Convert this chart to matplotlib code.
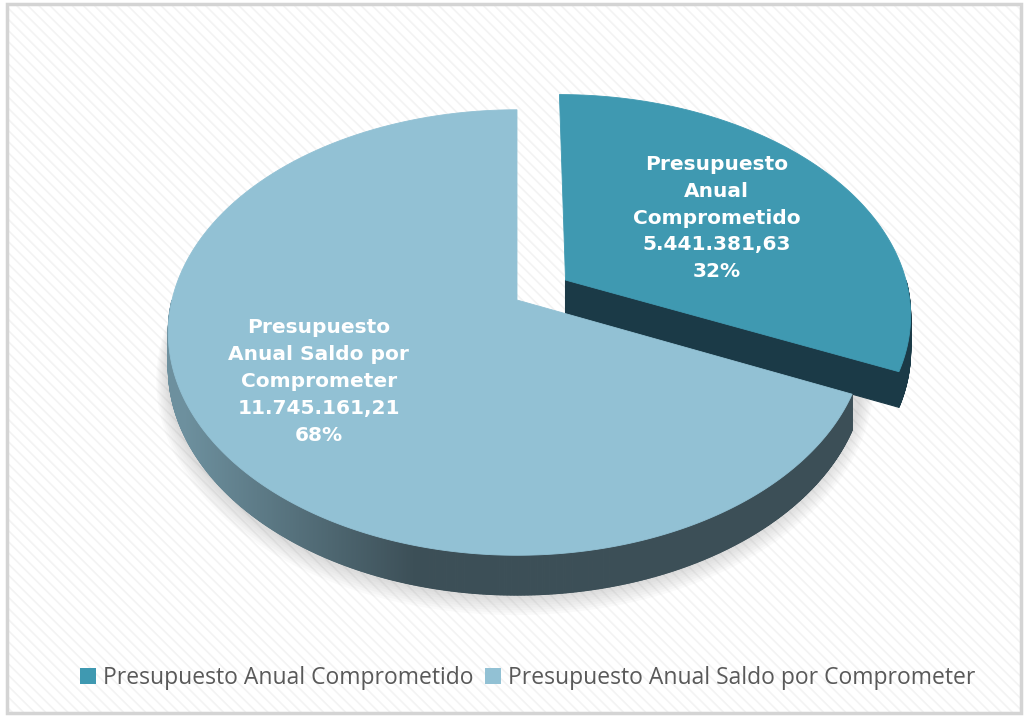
import numpy as np
import matplotlib
matplotlib.use("Agg")
import matplotlib.pyplot as plt
from matplotlib.patches import Polygon, Rectangle, Patch
from matplotlib.collections import PolyCollection
from matplotlib.colors import to_rgb

# datos
categories = ['Presupuesto Anual Comprometido', 'Presupuesto Anual Saldo por Comprometer']
label_names = ['Presupuesto\nAnual\nComprometido', 'Presupuesto\nAnual Saldo por\nComprometer']
values = [5441381.63, 11745161.21]
top_colors = ['#3f99b1', '#92c1d4']
explode = [0.17, 0.0]
label_r = [0.56, 0.65]

plt.rcParams['font.family'] = ['Open Sans', 'DejaVu Sans']
plt.rcParams['hatch.linewidth'] = 1.2

# geometria de la torta en pixeles
CX, CY = 517, 300
A, B = 345, 218
K = 0.146     # perspectiva
D = 34        # grosor


def proj(u, v, h=0.0):
    f = 1.0 / (1.0 + K * v)
    return CX + A * u * f, CY - B * v * f + D * h * f


def fmt_es(v):
    s = f"{v:,.2f}"
    return s.replace(',', 'X').replace('.', ',').replace('X', '.')


def lerp(c1, c2, t):
    c1, c2 = np.array(to_rgb(c1)), np.array(to_rgb(c2))
    return tuple(c1 + (c2 - c1) * t)


fig = plt.figure(figsize=(10.26, 7.17), dpi=100)
ax = fig.add_axes([0, 0, 1, 1])
ax.set_xlim(0, 1026)
ax.set_ylim(717, 0)
ax.axis('off')

# fondo rayado
ax.add_patch(Rectangle((7, 4), 1014, 709, facecolor='white', edgecolor='none', zorder=0))
ax.add_patch(Rectangle((7, 4), 1014, 709, facecolor='none', edgecolor='#f3f3f3',
                       hatch='\\\\\\', lw=0, zorder=0.1))
ax.add_patch(Rectangle((7, 4), 1014, 709, facecolor='none', edgecolor='#d4d4d4',
                       lw=2.5, zorder=0.2))

total = sum(values)
fracs = [v / total for v in values]

# angulos: empieza en 90 y va en sentido horario
slices = []
start = 90.0
for fr in fracs:
    end = start - fr * 360
    slices.append((end, start))
    start = end

# sombra bajo la torta (solo mitad delantera)
th = np.radians(np.linspace(175, 365, 200))
for i in range(8):
    s = 1.0 + 0.004 * i
    xs, ys = proj(np.cos(th) * s, np.sin(th) * s, 1.0)
    ax.add_patch(Polygon(np.column_stack([xs - 2, ys + 3 + i * 1.2]), closed=True,
                         facecolor='#808080', edgecolor='none', alpha=0.035, zorder=1))

# se dibuja primero el sector separado (queda atras)
order = [0, 1]
z = 2
for i in order:
    t0, t1 = slices[i]
    mid = np.radians((t0 + t1) / 2)
    ou, ov = explode[i] * np.cos(mid), explode[i] * np.sin(mid)
    ts = np.radians(np.linspace(t0, t1, int((t1 - t0) * 5) + 2))
    u = ou + np.cos(ts)
    v = ov + np.sin(ts)

    # lado exterior visible
    vis = np.sin(ts) <= 0
    if vis.sum() > 1:
        tv = ts[vis]
        uu, vv = ou + np.cos(tv), ov + np.sin(tv)
        xt, yt = proj(uu, vv, 0)
        xb, yb = proj(uu, vv, 1)
        polys, cols = [], []
        for j in range(len(tv) - 1):
            polys.append([(xt[j], yt[j]), (xt[j + 1], yt[j + 1]),
                          (xb[j + 1], yb[j + 1]), (xb[j], yb[j])])
            if i == 0:
                cols.append(to_rgb('#1b3a47'))
            else:
                tt = np.clip((xt[j] - 185) / 230, 0, 1)
                cols.append(lerp('#6d909e', '#3c4f57', tt))
        ax.add_collection(PolyCollection(polys, facecolors=cols, edgecolors=cols,
                                         linewidths=0.8, zorder=z))

    # cara radial visible (borde inferior del sector separado)
    if i == 0:
        ue, ve = ou + np.cos(ts[0]), ov + np.sin(ts[0])
        pts = [proj(ou, ov, 0), proj(ue, ve, 0), proj(ue, ve, 1), proj(ou, ov, 1)]
        ax.add_patch(Polygon(pts, closed=True, facecolor='#1b3a47',
                             edgecolor='#1b3a47', lw=0.8, zorder=z + 0.5))

    # tapa superior
    xs, ys = proj(np.concatenate([[ou], u]), np.concatenate([[ov], v]), 0)
    ax.add_patch(Polygon(np.column_stack([xs, ys]), closed=True,
                         facecolor=top_colors[i], edgecolor=top_colors[i], lw=0.6,
                         zorder=z + 1))

    # etiqueta
    lx, ly = proj(ou + label_r[i] * np.cos(mid), ov + label_r[i] * np.sin(mid), 0)
    txt = f"{label_names[i]}\n{fmt_es(values[i])}\n{fracs[i] * 100:.0f}%"
    ax.text(lx, ly, txt, ha='center', va='center', color='white', fontsize=14.5,
            fontweight='bold', family='DejaVu Sans', linespacing=1.52, zorder=10)
    z += 2

# leyenda
handles = [Patch(facecolor=c, edgecolor='none') for c in top_colors]
leg = fig.legend(handles, categories, loc='center', bbox_to_anchor=(0.514, 0.054),
                 ncol=2, frameon=False, fontsize=16.5, handlelength=0.7,
                 handleheight=0.7, handletextpad=0.3, columnspacing=0.5)
for t in leg.get_texts():
    t.set_color('#595959')

fig.savefig('out.png', dpi=100)
